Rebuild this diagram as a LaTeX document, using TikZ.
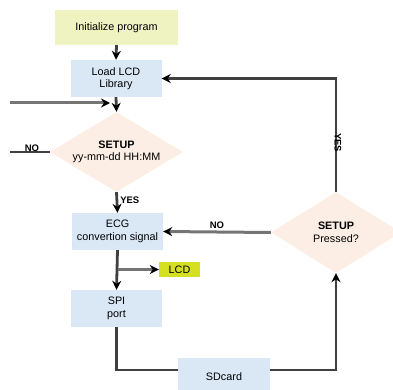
\documentclass[tikz,border=0pt]{standalone}
\usepackage{fontspec}
\setmainfont{Liberation Sans}
\usetikzlibrary{arrows.meta,positioning,calc,shapes.geometric}
\definecolor{initfill}{HTML}{EFF3C2}
\definecolor{stepfill}{HTML}{DAE8F6}
\definecolor{askfill}{HTML}{FCEEE4}
\definecolor{lcdfill}{HTML}{D6E022}
\definecolor{linedark}{HTML}{404040}
\definecolor{linegray}{HTML}{757575}

\begin{document}
\begin{tikzpicture}[
  x=1pt, y=-1pt,
  font=\fontsize{10.8}{12.5}\selectfont,
  init/.style  = {fill=initfill, minimum width=123pt, minimum height=35pt, inner sep=0pt},
  proc/.style  = {fill=stepfill, minimum width=91pt, minimum height=37pt, inner sep=0pt, align=center},
  ask/.style   = {diamond, fill=askfill, aspect=1.62, inner sep=0pt, align=center},
  tag/.style   = {fill=lcdfill, minimum width=41pt, minimum height=15pt, inner sep=0pt},
  ln/.style    = {-{Stealth[length=9pt,width=9pt,black]}, draw=linedark, line width=2.8pt},
  lnh/.style   = {-{Stealth[length=9pt,width=9pt,black]}, draw=linegray, line width=3pt},
  wire/.style  = {draw=linedark, line width=2.8pt},
  lbl/.style   = {font=\fontsize{9.5}{10}\selectfont\bfseries, inner sep=1pt},
]
\useasboundingbox (0,0) rectangle (393,390);

% --- main column ---------------------------------------------------------------------------------
\node[init] (init) at (116.5,27.5) {Initialize program};
\node[proc] (lcdlib) at (116,78.5) {Load LCD\\Library};
\node[ask, minimum width=133pt, minimum height=80pt] (setup) at (116.5,152)
  {\textbf{SETUP}\\yy-mm-dd HH:MM};
\node[proc] (ecg) at (117.5,231.5) {ECG\\convertion signal};
\node[tag] (lcd) at (179.5,269.5) {LCD};
\node[proc] (spi) at (116.5,308.5) {SPI\\port};

% --- right side ----------------------------------------------------------------------------------
\node[proc, minimum width=92pt] (sdcard) at (224,376.5) {SDcard};
\node[ask, minimum width=130pt, minimum height=81pt] (pressed) at (336,232.5)
  {\textbf{SETUP}\\Pressed?};

% --- loose ends on the left ----------------------------------------------------------------------
\coordinate (inL) at (10,103);
\coordinate (inR) at (110,103);
\coordinate (noL) at (10,152);

% --- connectors ----------------------------------------------------------------------------------
\draw[ln] (init.south) -- (lcdlib.north);
\draw[ln] (lcdlib.south) -- (setup.north);
\draw[lnh] (inL) -- (inR);
\draw[wire] (setup.west) -- node[lbl, above=-2pt, pos=0.45] {NO} (noL);
\draw[ln] (setup.south) -- node[lbl, right=1pt, pos=0.4] {YES} (ecg.north);

\draw[ln] (ecg.south) -- (spi.north);
\coordinate (br) at (ecg.south |- lcd.west);
\draw[lnh] (br) -- (lcd.west);

\draw[wire] (spi.south) |- ([yshift=6.5pt]sdcard.west);
\draw[ln] ([yshift=6.5pt]sdcard.east) -| (pressed.south);

\draw[lnh] (pressed.west) -- node[lbl, above=1pt, pos=0.5] {NO} (ecg.east);
\draw[ln] (pressed.north) |- node[lbl, rotate=-90, right=2pt, pos=0.27] {YES} (lcdlib.east);

\end{tikzpicture}
\end{document}
